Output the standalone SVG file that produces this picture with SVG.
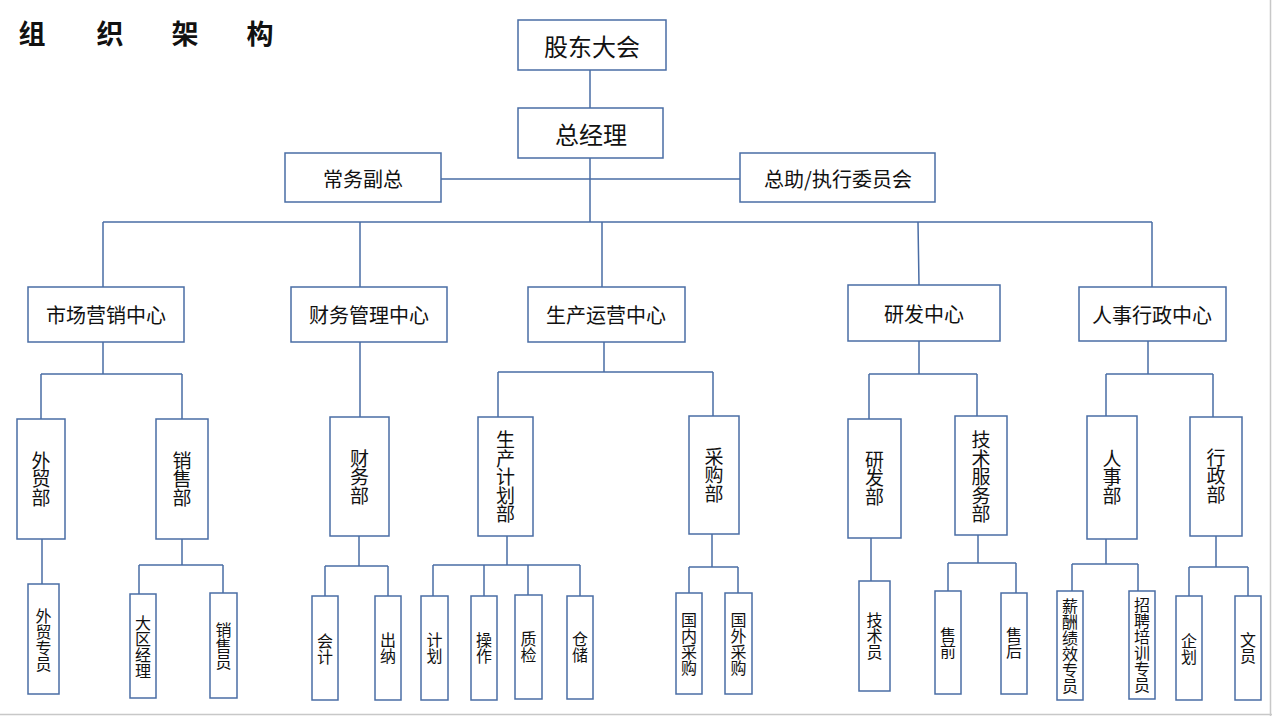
<svg xmlns="http://www.w3.org/2000/svg" width="1272" height="716" viewBox="0 0 1272 716">
<style>
.b{fill:#fff;stroke:#4A6DA5;stroke-width:1.5}
.c{stroke:#4A6DA5;stroke-width:1.5;fill:none}
.t{font-family:"Noto Sans CJK SC","Microsoft YaHei",sans-serif;fill:#111;text-anchor:middle;dominant-baseline:central}
.h{font-size:24px}
.m{font-size:20px}
.v{font-size:19px;writing-mode:vertical-rl;text-orientation:upright;letter-spacing:-0.5px}
.s{font-size:16px;writing-mode:vertical-rl;text-orientation:upright;letter-spacing:0px}
.title{font-family:"Noto Sans CJK SC",serif;font-weight:bold;font-size:27px;fill:#111;text-anchor:middle;dominant-baseline:central}
</style>
<rect width="1272" height="716" fill="#fff"/>
<g id="frame"><path d="M0 714.5H1272M1270.5 0V716" stroke="#c8c8c8" stroke-width="1.5" fill="none"/></g>
<g id="title"><text class="title"><tspan x="32" y="32">组</tspan><tspan x="110" y="32">织</tspan><tspan x="185" y="32">架</tspan><tspan x="260" y="32">构</tspan></text></g>
<g id="connectors" class="c">
<path d="M590 70V108M441 179H740M590 158V222M103 222H1152"/>
<path d="M103 222V287M360 222V287M602 222V287M918 222L919 285M1152 222V287"/>
<path d="M103 342V374M41 374H182M41 374V419M182 374V419"/>
<path d="M360 342V417"/>
<path d="M604 342V372M498 372H713M498 372V417M713 372V416"/>
<path d="M919 341V374M869 374H977M869 374V419M977 374V416"/>
<path d="M1148 341V374M1106 374H1213M1106 374V416M1213 374V417"/>
<path d="M42 539V584"/>
<path d="M182 539V565M139 565H223M139 565V594M223 565V593"/>
<path d="M359 536V566M325 566H388M325 566V596M388 566V596"/>
<path d="M507 536V565M433 565H580M433 565V596M484 565V596M528 565V595M580 565V596"/>
<path d="M712 534V567M689 567H738M689 567V593M738 567V593"/>
<path d="M871 538V581"/>
<path d="M978 535V563M948 563H1016M948 563V591M1016 563V593"/>
<path d="M1106 539V564M1072 564H1138M1072 564V591M1138 564V591"/>
<path d="M1216 536V567M1189 567H1248M1189 567V596M1248 567V596"/>
</g>
<g id="n-gudong"><rect class="b" x="518" y="20" width="148" height="50"/><text class="t h" x="592" y="45">股东大会</text></g>
<g id="n-zongjingli"><rect class="b" x="518" y="108" width="145" height="50"/><text class="t h" x="591" y="133">总经理</text></g>
<g id="n-changwu"><rect class="b" x="285" y="153" width="156" height="49"/><text class="t m" x="363" y="178">常务副总</text></g>
<g id="n-zongzhu"><rect class="b" x="740" y="153" width="195" height="49"/><text class="t m" x="838" y="178">总助/执行委员会</text></g>
<g id="n-shichang"><rect class="b" x="28" y="287" width="156" height="55"/><text class="t m" x="106" y="314">市场营销中心</text></g>
<g id="n-caiwuzx"><rect class="b" x="291" y="287" width="156" height="55"/><text class="t m" x="369" y="314">财务管理中心</text></g>
<g id="n-shengchan"><rect class="b" x="528" y="287" width="157" height="55"/><text class="t m" x="606" y="314">生产运营中心</text></g>
<g id="n-yanfazx"><rect class="b" x="848" y="285" width="152" height="56"/><text class="t m" x="924" y="313">研发中心</text></g>
<g id="n-renshizx"><rect class="b" x="1079" y="287" width="147" height="54"/><text class="t m" x="1152" y="314">人事行政中心</text></g>
<g id="n-waimao"><rect class="b" x="17" y="419" width="48" height="120"/><text class="t v" x="41" y="479">外贸部</text></g>
<g id="n-xiaoshou"><rect class="b" x="156" y="419" width="52" height="120"/><text class="t v" x="182" y="479">销售部</text></g>
<g id="n-caiwubu"><rect class="b" x="330" y="417" width="59" height="119"/><text class="t v" x="359.5" y="477">财务部</text></g>
<g id="n-jihuabu"><rect class="b" x="478" y="417" width="55" height="119"/><text class="t v" x="505.5" y="477">生产计划部</text></g>
<g id="n-caigou"><rect class="b" x="689" y="416" width="50" height="118"/><text class="t v" x="714" y="475">采购部</text></g>
<g id="n-yanfabu"><rect class="b" x="848" y="419" width="53" height="119"/><text class="t v" x="874.5" y="478">研发部</text></g>
<g id="n-jishufw"><rect class="b" x="955" y="416" width="52" height="119"/><text class="t v" x="981" y="477">技术服务部</text></g>
<g id="n-renshibu"><rect class="b" x="1087" y="416" width="50" height="123"/><text class="t v" x="1112" y="477">人事部</text></g>
<g id="n-xingzheng"><rect class="b" x="1190" y="417" width="52" height="119"/><text class="t v" x="1216" y="476">行政部</text></g>
<g id="n-waimaozy"><rect class="b" x="28" y="584" width="31" height="110"/><text class="t s" x="43.5" y="640">外贸专员</text></g>
<g id="n-daqu"><rect class="b" x="130" y="594" width="26" height="104"/><text class="t s" x="143" y="647">大区经理</text></g>
<g id="n-xiaoshouyuan"><rect class="b" x="210" y="593" width="27" height="105"/><text class="t s" x="223.5" y="646">销售员</text></g>
<g id="n-kuaiji"><rect class="b" x="312" y="596" width="26" height="104"/><text class="t s" x="325" y="649">会计</text></g>
<g id="n-chuna"><rect class="b" x="375" y="596" width="26" height="104"/><text class="t s" x="388" y="648">出纳</text></g>
<g id="n-jihua"><rect class="b" x="421" y="596" width="27" height="104"/><text class="t s" x="434.5" y="648">计划</text></g>
<g id="n-caozuo"><rect class="b" x="471" y="596" width="26" height="104"/><text class="t s" x="484" y="648">操作</text></g>
<g id="n-zhijian"><rect class="b" x="515" y="595" width="27" height="104"/><text class="t s" x="528.5" y="647">质检</text></g>
<g id="n-cangchu"><rect class="b" x="567" y="596" width="26" height="103"/><text class="t s" x="580" y="647">仓储</text></g>
<g id="n-guonei"><rect class="b" x="676" y="593" width="26" height="101"/><text class="t s" x="689" y="644">国内采购</text></g>
<g id="n-guowai"><rect class="b" x="725" y="593" width="27" height="101"/><text class="t s" x="738.5" y="644">国外采购</text></g>
<g id="n-jishuyuan"><rect class="b" x="859" y="581" width="31" height="110"/><text class="t s" x="874.5" y="636">技术员</text></g>
<g id="n-shouqian"><rect class="b" x="935" y="591" width="26" height="103"/><text class="t s" x="948" y="643">售前</text></g>
<g id="n-shouhou"><rect class="b" x="1001" y="593" width="26" height="101"/><text class="t s" x="1014" y="643">售后</text></g>
<g id="n-xinchou"><rect class="b" x="1057" y="591" width="26" height="109"/><text class="t s" x="1070" y="646">薪酬绩效专员</text></g>
<g id="n-zhaopin"><rect class="b" x="1129" y="591" width="26" height="108"/><text class="t s" x="1142" y="645">招聘培训专员</text></g>
<g id="n-qihua"><rect class="b" x="1176" y="596" width="26" height="104"/><text class="t s" x="1189" y="649">企划</text></g>
<g id="n-wenyuan"><rect class="b" x="1235" y="596" width="26" height="104"/><text class="t s" x="1248" y="648">文员</text></g>
</svg>
